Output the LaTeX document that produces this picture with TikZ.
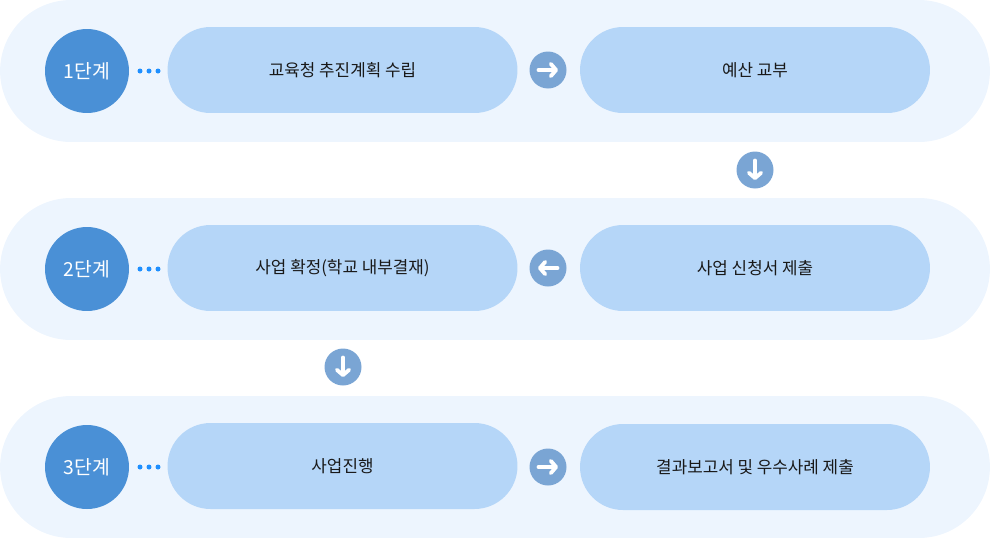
\documentclass[tikz,border=0pt]{standalone}
\usepackage{fontspec}
\setmainfont{Noto Sans CJK KR}
\usetikzlibrary{arrows.meta}
\definecolor{bandbg}{RGB}{237,245,254}
\definecolor{pillbg}{RGB}{181,214,248}
\definecolor{stepbg}{RGB}{74,144,214}
\definecolor{arrbg}{RGB}{122,165,212}
\definecolor{dotblue}{RGB}{30,143,255}

\begin{document}
\begin{tikzpicture}[x = 0.02cm, y = -0.02cm,
  band/.style = {fill = bandbg, minimum width = 19.8cm, minimum height = 2.84cm, rounded corners = 1.42cm, inner sep = 0pt},
  pill/.style = {fill = pillbg, minimum width = 7cm, minimum height = 1.72cm, rounded corners = 0.86cm, inner sep = 0pt, font = \fontsize{9.6}{11}\selectfont, text = black!90},
  stepc/.style = {circle, fill = stepbg, minimum size = 1.68cm, inner sep = 0pt, text = white, font = \fontsize{11}{13}\selectfont},
  arrc/.style = {circle, fill = arrbg, minimum size = 0.74cm, inner sep = 0pt},
  arr/.style = {white, line width = 2.2pt, line cap = round, -{Straight Barb[round, length = 3pt, width = 7pt]}}]
			\useasboundingbox (0,0) rectangle (990,538);
			\node (b1) at (495,71) [band] {};
			\node (b2) at (495,269) [band] {};
			\node (b3) at (495,467) [band] {};
			\node (s1) at (87,71) [stepc] {1단계};
			\node (s2) at (87,269) [stepc] {2단계};
			\node (s3) at (87,467) [stepc] {3단계};
			\node (p1) at (342.5,70) [pill] {교육청 추진계획 수립};
			\node (p2) at (755,70) [pill] {예산 교부};
			\node (p3) at (755,268) [pill] {사업 신청서 제출};
			\node (p4) at (342.5,268) [pill] {사업 확정(학교 내부결재)};
			\node (p5) at (342.5,466) [pill] {사업진행};
			\node (p6) at (755,467) [pill] {결과보고서 및 우수사례 제출};
			\node (a1) at (548,70) [arrc] {};
			\node (a2) at (755,170) [arrc] {};
			\node (a3) at (548,268) [arrc] {};
			\node (a4) at (343,367) [arrc] {};
			\node (a5) at (548,467) [arrc] {};
			\foreach \y in {71,269,467}
				\foreach \x in {140,149,158}
					\fill[dotblue] (\x,\y) circle (0.05cm);
			\draw[arr] ([xshift = -0.19cm]a1.center) -- ([xshift = 0.2cm]a1.center);
			\draw[arr] ([yshift = 0.19cm]a2.center) -- ([yshift = -0.2cm]a2.center);
			\draw[arr] ([xshift = 0.19cm]a3.center) -- ([xshift = -0.2cm]a3.center);
			\draw[arr] ([yshift = 0.19cm]a4.center) -- ([yshift = -0.2cm]a4.center);
			\draw[arr] ([xshift = -0.19cm]a5.center) -- ([xshift = 0.2cm]a5.center);
			\end{tikzpicture}
\end{document}
